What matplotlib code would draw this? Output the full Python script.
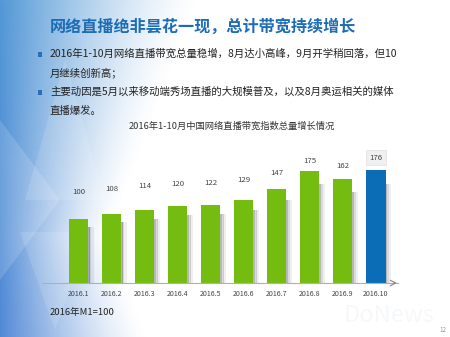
import numpy as np
import matplotlib
matplotlib.use("Agg")
import matplotlib.pyplot as plt
from matplotlib.patches import Polygon

plt.rcParams['font.family'] = ['Noto Sans CJK SC', 'DejaVu Sans']

# data
months = ['2016.1', '2016.2', '2016.3', '2016.4', '2016.5',
          '2016.6', '2016.7', '2016.8', '2016.9', '2016.10']
index_vals = [100, 108, 114, 120, 122, 129, 147, 175, 162, 176]

title = '网络直播绝非昙花一现，总计带宽持续增长'
bullet_1 = ['2016年1-10月网络直播带宽总量稳增，8月达小高峰，9月开学稍回落，但10',
            '月继续创新高；']
bullet_2 = ['主要动因是5月以来移动端秀场直播的大规模普及，以及8月奥运相关的媒体',
            '直播爆发。']
chart_title = '2016年1-10月中国网络直播带宽指数总量增长情况'
note = '2016年M1=100'

W, H = 450, 337
fig = plt.figure(figsize=(4.5, 3.37), dpi=100)

# background in pixel coords
bg = fig.add_axes([0, 0, 1, 1])
bg.set_xlim(0, W)
bg.set_ylim(H, 0)
bg.axis('off')

# blue fade on the left side
xx, yy = np.meshgrid(np.arange(W), np.arange(H))
reach = 110 + 90 * np.abs(yy - 235) / 235
fade = np.clip(1 - xx / reach, 0, 1) ** 1.4
img = np.zeros((H, W, 4))
img[..., 0] = 0.15
img[..., 1] = 0.42 + 0.15 * (1 - yy / H) * 0.5
img[..., 2] = 0.80
img[..., 3] = fade * 0.8
bg.imshow(img, extent=(0, W, H, 0), aspect='auto', zorder=0)

# faint triangle facets
tris = [
    [(0, 120), (60, 200), (0, 280)],
    [(20, 232), (90, 232), (55, 330)],
    [(65, 60), (25, 200), (105, 200)],
]
for t, a in zip(tris, [0.15, 0.12, 0.12]):
    bg.add_patch(Polygon(t, closed=True, fc='white', ec='none', alpha=a, zorder=1))

# title and bullets
bg.text(50, 27, title, fontsize=11.6, color='#1d6cb6', fontweight='bold',
        va='center', ha='left', zorder=3)
rows = [(54, bullet_1[0], True), (73, bullet_1[1], False),
        (92, bullet_2[0], True), (111, bullet_2[1], False)]
for y, txt, has_mark in rows:
    if has_mark:
        bg.add_patch(plt.Rectangle((37.5, y - 2), 4.5, 4.5, fc='#2a6fb5', ec='none', zorder=3))
    bg.text(50, y, txt, fontsize=7.5, color='#222222', va='center', ha='left', zorder=3)

bg.text(232, 126, chart_title, fontsize=6.7, color='#333333', va='center', ha='center', zorder=3)
bg.text(50, 313, note, fontsize=6.8, color='#222222', va='center', ha='left', zorder=3)
bg.text(443, 330, '12', fontsize=4.5, color='#999999', va='center', ha='center', zorder=3)
bg.text(389, 316, 'DoNews', fontsize=17, color='#eef1f5', style='italic',
        va='center', ha='center', alpha=0.5, zorder=2)

# chart axes
ax = fig.add_axes([42 / W, (H - 283) / H, 356 / W, 128 / H])
ax.patch.set_alpha(0)
x = np.arange(len(months))
colors = ['#74bd10'] * (len(months) - 1) + ['#0a6db5']
vals = np.array(index_vals)

# soft shadow strip on the right of each bar
for off, w, a in [(0.31, 0.05, 0.35), (0.36, 0.06, 0.18), (0.42, 0.07, 0.08)]:
    ax.bar(x + off, vals * 0.88, width=w, color='#333333', alpha=a, zorder=1, lw=0)
ax.bar(x, vals, width=0.58, color=colors, zorder=2)

for i, v in enumerate(index_vals):
    ly = 0.65 * v + 77
    if i == len(months) - 1:
        ax.text(i, ly + 4, str(v), fontsize=5.6, color='#444444', ha='center', va='center',
                bbox=dict(boxstyle='square,pad=0.45', fc='#f0f0f0', ec='#e0e0e0', lw=0.5),
                clip_on=False)
    else:
        ax.text(i, ly, str(v), fontsize=5.6, color='#444444', ha='center', va='center',
                clip_on=False)

ax.set_xlim(-1.106, 9.667)
ax.set_ylim(0, 200)
ax.set_xticks(x)
ax.set_xticklabels(months, fontsize=5.1, color='#444444')
ax.tick_params(axis='x', length=0, pad=5)
ax.set_yticks([])
for s in ['top', 'right', 'left']:
    ax.spines[s].set_visible(False)
ax.spines['bottom'].set_color('#b0b0b0')
ax.spines['bottom'].set_linewidth(0.8)
ax.annotate('', xy=(1.005, 0), xytext=(0.98, 0), xycoords='axes fraction',
            arrowprops=dict(arrowstyle='->', color='#888888', lw=0.8))

fig.savefig('out.png', dpi=100)
